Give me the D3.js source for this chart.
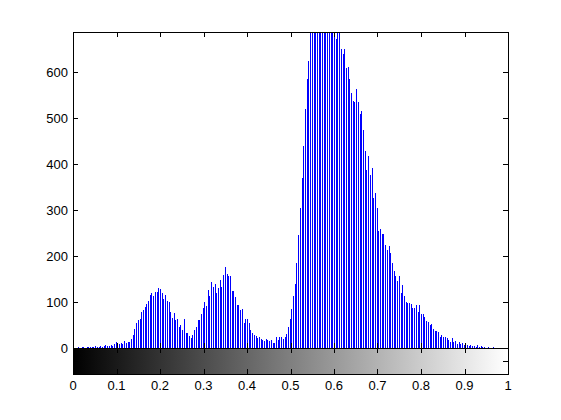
<!DOCTYPE html>
<html>
<head>
<meta charset="utf-8">
<script src="https://cdn.jsdelivr.net/npm/d3@7"></script>
<style>
  html, body { margin: 0; padding: 0; background: #ffffff; }
  svg { display: block; }
  text { font-family: "Liberation Sans", Arial, Helvetica, sans-serif; font-size: 13px; fill: #000; }
</style>
</head>
<body>
<svg id="chart" width="561" height="420"></svg>
<script>
// Histogram counts for 256 gray-level bins (intensity 0..1)
const counts = [
  2,1,1,2,1,3,2,1,2,3,2,3,2,4,3,3,
  5,3,4,6,4,5,7,5,8,12,6,9,11,8,16,10,
  14,13,20,28,42,55,60,64,79,83,90,95,103,115,120,113,
  121,122,130,128,119,107,115,103,99,78,65,77,61,62,46,50,
  39,62,33,33,26,21,28,39,46,61,61,75,86,101,92,126,
  112,143,133,139,120,130,148,133,159,177,160,157,157,125,125,110,
  94,94,83,84,54,62,62,54,40,33,28,26,21,23,20,17,
  16,20,17,16,17,10,10,23,17,23,25,20,25,30,46,62,
  85,112,140,185,245,305,370,440,520,585,625,700,730,760,745,790,
  770,800,780,810,790,770,800,760,740,720,671,705,695,650,640,649,
  609,611,584,555,537,534,562,534,508,515,475,428,388,417,377,391,
  327,337,305,255,259,248,248,225,214,221,206,185,168,157,146,157,
  120,137,112,100,97,98,95,86,88,93,78,93,75,75,68,59,
  56,51,53,42,38,36,35,25,28,24,25,22,18,13,22,13,
  15,9,13,8,10,6,9,7,5,7,4,5,3,6,2,4,
  2,2,1,3,1,1,2,1,0,1,1,0,0,1,0,0
];
const xTicks = [0, 0.1, 0.2, 0.3, 0.4, 0.5, 0.6, 0.7, 0.8, 0.9, 1];
const xTickLabels = ["0", "0.1", "0.2", "0.3", "0.4", "0.5", "0.6", "0.7", "0.8", "0.9", "1"];
const yTicks = [0, 100, 200, 300, 400, 500, 600];
const yTickLabels = ["0", "100", "200", "300", "400", "500", "600"];
const yMax = 687;

const svg = d3.select("#chart");
const L = 73, R = 508, T = 32, B = 348, CB = 374;
const tick = 5;

const x = d3.scaleLinear().domain([0, 1]).range([L, R]);
const y = d3.scaleLinear().domain([0, yMax]).range([B, T]);
const n = counts.length;
const binPos = d3.range(n).map(i => i / (n - 1));

// clip for histogram axes
svg.append("defs").append("clipPath").attr("id", "clipH")
  .append("rect").attr("x", L).attr("y", T).attr("width", R - L).attr("height", B - T);

// gradient for colorbar
const grad = svg.select("defs").append("linearGradient").attr("id", "gray")
  .attr("x1", "0%").attr("x2", "100%").attr("y1", "0%").attr("y2", "0%");
grad.append("stop").attr("offset", "0%").attr("stop-color", "#000");
grad.append("stop").attr("offset", "100%").attr("stop-color", "#fff");

// colorbar
svg.append("rect").attr("x", L).attr("y", B).attr("width", R - L).attr("height", CB - B)
  .attr("fill", "url(#gray)");

// stems
svg.append("g").attr("clip-path", "url(#clipH)")
  .selectAll("line").data(counts).join("line")
  .attr("x1", (d, i) => Math.round(x(binPos[i])) + 0.5)
  .attr("x2", (d, i) => Math.round(x(binPos[i])) + 0.5)
  .attr("y1", y(0))
  .attr("y2", d => y(d))
  .attr("stroke", "#0000ff")
  .attr("stroke-width", 1)
  .attr("shape-rendering", "crispEdges");

const axisG = svg.append("g").attr("stroke", "#000").attr("stroke-width", 1)
  .attr("shape-rendering", "crispEdges");

// histogram box
axisG.append("rect").attr("x", L + 0.5).attr("y", T + 0.5)
  .attr("width", R - L).attr("height", B - T).attr("fill", "none");
// colorbar box
axisG.append("rect").attr("x", L + 0.5).attr("y", B + 0.5)
  .attr("width", R - L).attr("height", CB - B).attr("fill", "none");

// x ticks
xTicks.forEach(v => {
  const px = Math.round(x(v)) + 0.5;
  // histogram bottom (up) and top (down)
  axisG.append("line").attr("x1", px).attr("x2", px).attr("y1", B).attr("y2", B - tick);
  axisG.append("line").attr("x1", px).attr("x2", px).attr("y1", T).attr("y2", T + tick);
  // colorbar top (down) and bottom (up)
  axisG.append("line").attr("x1", px).attr("x2", px).attr("y1", B).attr("y2", B + tick);
  axisG.append("line").attr("x1", px).attr("x2", px).attr("y1", CB).attr("y2", CB - tick);
});

// y ticks
yTicks.forEach(v => {
  const py = Math.round(y(v)) + 0.5;
  axisG.append("line").attr("x1", L).attr("x2", L + tick).attr("y1", py).attr("y2", py);
  axisG.append("line").attr("x1", R).attr("x2", R - tick).attr("y1", py).attr("y2", py);
});
// colorbar middle y tick
const cbMid = Math.round((B + CB) / 2) + 0.5;
axisG.append("line").attr("x1", L).attr("x2", L + tick).attr("y1", cbMid).attr("y2", cbMid);
axisG.append("line").attr("x1", R).attr("x2", R - tick).attr("y1", cbMid).attr("y2", cbMid);

// labels
svg.append("g").selectAll("text").data(xTicks).join("text")
  .attr("x", d => x(d))
  .attr("y", 390)
  .attr("text-anchor", "middle")
  .text((d, i) => xTickLabels[i]);

svg.append("g").selectAll("text").data(yTicks).join("text")
  .attr("x", L - 5)
  .attr("y", d => y(d) + 4.7)
  .attr("text-anchor", "end")
  .text((d, i) => yTickLabels[i]);
</script>
</body>
</html>
